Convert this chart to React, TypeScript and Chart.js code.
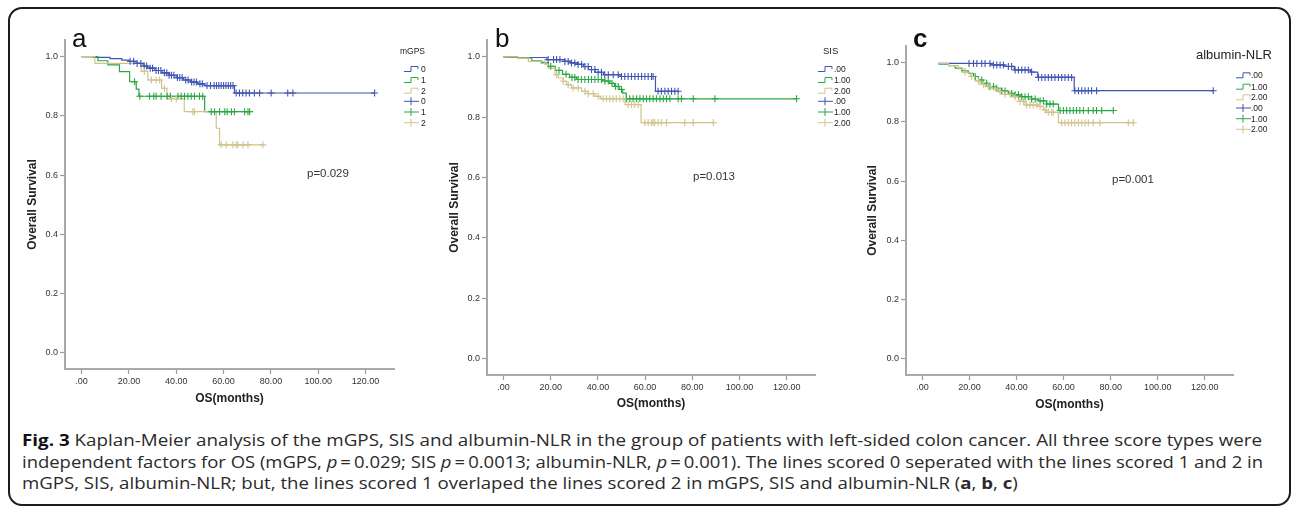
import React, { useEffect, useLayoutEffect, useRef } from 'react';
import { Chart, registerables } from 'chart.js';

Chart.register(...registerables);
Chart.defaults.font.family = "'Liberation Sans', Arial, sans-serif";

// ---------------- data ----------------
const X_TICKS = [0, 20, 40, 60, 80, 100, 120];
const Y_TICKS = [0, 0.2, 0.4, 0.6, 0.8, 1.0];

// Panel a: mGPS (event times / survival after step / censor times)
const A0_T = [0, 5, 12, 17, 20, 23, 26, 28, 31, 34, 37, 40, 43, 46, 49, 52, 64.6, 123.8];
const A0_S = [1.0, 0.997, 0.993, 0.988, 0.984, 0.977, 0.968, 0.961, 0.953, 0.945, 0.937, 0.929, 0.921, 0.914, 0.908, 0.902, 0.877, 0.877];
const A0_C = [20.5, 22, 23.5, 25, 26.5, 27.5, 29, 30, 31.5, 32.5, 33.5, 35, 36, 37, 38, 39, 40.5, 41.5, 42.5, 44, 45, 46.5, 47.5, 48.5, 50, 51, 53, 54.5, 56, 57, 58, 59, 60, 61, 62, 63, 64, 65.3, 66.7, 68.1, 69.5, 70.9, 73, 75.2, 80.1, 87.1, 89.3, 123.8];
const A1_T = [0, 6.9, 11.1, 16.0, 20.3, 23.1, 24.2, 52.0, 71.0];
const A1_S = [1.0, 0.986, 0.972, 0.949, 0.915, 0.89, 0.866, 0.814, 0.814];
const A1_C = [22.4, 24.6, 28.7, 30.5, 31.5, 33.6, 36.2, 37.5, 40.7, 42.1, 43.5, 44.9, 46.3, 47.7, 49.8, 51.2, 54.8, 56.2, 58.3, 60.5, 61.5, 63.3, 64.6, 68.9, 70.3, 71.0];
const A2_T = [0, 5.6, 25.2, 28.0, 33.8, 36.0, 43.4, 56.9, 58.3, 76.6];
const A2_S = [1.0, 0.977, 0.95, 0.921, 0.893, 0.858, 0.814, 0.758, 0.702, 0.702];
const A2_C = [26.5, 29.5, 31.5, 33.0, 35.0, 38.0, 40.0, 47.0, 47.7, 59.0, 61.1, 63.9, 65.3, 66.0, 68.2, 70.3, 76.6];

// Panel b: SIS
const B0_T = [0, 2, 18.4, 26, 28.3, 31.6, 33.9, 36, 38.8, 42.4, 49.4, 64.4, 74.0];
const B0_S = [1.0, 0.998, 0.991, 0.985, 0.98, 0.975, 0.968, 0.958, 0.949, 0.941, 0.935, 0.886, 0.886];
const B0_C = [18.9, 21.2, 22.5, 23.9, 26.0, 27.4, 28.8, 30.2, 31.6, 33.1, 34.5, 35.9, 37.3, 38.7, 40.1, 41.5, 42.9, 44.4, 46.5, 48.6, 50.0, 51.4, 52.8, 54.2, 55.7, 57.1, 58.5, 59.9, 61.3, 62.7, 63.4, 65.5, 66.9, 68.4, 69.8, 71.2, 72.6, 74.0];
const B1_T = [0, 6, 12, 16, 19, 22, 25, 28, 31, 42, 45, 47, 49, 50.5, 52, 124.2];
const B1_S = [1.0, 0.997, 0.987, 0.98, 0.969, 0.955, 0.942, 0.932, 0.925, 0.92, 0.912, 0.902, 0.892, 0.88, 0.861, 0.861];
const B1_C = [20, 23.5, 26.5, 29, 30.2, 31.6, 33, 34.5, 36, 37.3, 38.7, 40.1, 41.5, 43, 44.4, 46, 47.5, 48.6, 50, 52.1, 53.5, 54.9, 56.4, 57.8, 59.2, 60.6, 62.0, 63.4, 64.8, 66.3, 67.7, 69.1, 70.5, 74.0, 75.4, 80.4, 89.6, 124.2];
const B2_T = [0, 6.2, 10.5, 17.5, 18.9, 21.8, 23.2, 25.3, 26.7, 28.8, 33.1, 35.9, 38.7, 41, 51.5, 58.3, 88.9];
const B2_S = [1.0, 0.996, 0.985, 0.974, 0.963, 0.941, 0.93, 0.919, 0.908, 0.897, 0.886, 0.878, 0.869, 0.861, 0.842, 0.782, 0.782];
const B2_C = [22.5, 25.3, 27.4, 29.5, 31.6, 34.5, 35.9, 38.0, 40.1, 42.2, 43.6, 45.0, 46.4, 47.8, 49.3, 50.7, 52.8, 54.2, 55.6, 57.1, 59.9, 61.3, 62.7, 63.4, 64.1, 65.5, 66.9, 69.1, 76.8, 80.4, 88.9];

// Panel c: albumin-NLR
const C0_T = [6.8, 29, 35, 39, 46, 49, 64.5, 124];
const C0_S = [0.997, 0.992, 0.987, 0.975, 0.968, 0.95, 0.905, 0.905];
const C0_C = [19.8, 21.7, 23.1, 25.2, 26.6, 28.7, 30.2, 31.6, 33.0, 34.4, 36.5, 37.9, 39.4, 40.8, 42.2, 43.6, 45.0, 46.4, 49.3, 50.7, 52.1, 53.5, 54.9, 56.3, 57.8, 59.2, 60.6, 62.0, 63.4, 64.8, 66.3, 67.7, 69.1, 70.5, 71.9, 74.0, 123.6];
const C1_T = [6.8, 11.1, 13.9, 16.7, 19.5, 21.7, 23.8, 25.9, 28.0, 30.9, 33.7, 36.5, 39.4, 42.2, 46.4, 49.3, 52.8, 57.8, 81.1];
const C1_S = [0.995, 0.99, 0.981, 0.972, 0.964, 0.953, 0.941, 0.93, 0.919, 0.913, 0.904, 0.896, 0.891, 0.885, 0.877, 0.871, 0.86, 0.838, 0.838];
const C1_C = [22.4, 25.2, 27.3, 28.7, 30.2, 31.6, 33.7, 35.1, 37.9, 39.4, 40.8, 42.2, 43.6, 45.0, 46.4, 47.9, 50.0, 51.4, 52.8, 54.2, 55.6, 58.5, 59.9, 61.3, 62.7, 64.1, 65.5, 66.9, 68.4, 70.5, 72.6, 74.0, 76.2, 81.1];
const C2_T = [6.8, 11.1, 15.3, 18.1, 20.3, 22.4, 24.5, 26.6, 29.5, 32.3, 35.1, 37.9, 40.8, 43.6, 49.3, 51.4, 52.8, 57.8, 90.3];
const C2_S = [0.997, 0.99, 0.979, 0.967, 0.953, 0.938, 0.927, 0.919, 0.913, 0.902, 0.893, 0.885, 0.869, 0.857, 0.852, 0.84, 0.832, 0.797, 0.797];
const C2_C = [18.1, 20.9, 23.8, 25.9, 28.0, 30.9, 33.0, 35.1, 37.2, 39.4, 41.5, 42.9, 44.3, 45.7, 47.1, 48.6, 50.0, 52.1, 53.5, 54.9, 55.6, 59.2, 60.6, 62.0, 63.4, 64.8, 66.3, 67.7, 69.1, 70.5, 72.6, 75.4, 87.5, 89.6];

const LABELS_A = ['0', '1', '2'];
const LABELS_BC = ['.00', '1.00', '2.00'];

// ---------------- styles / layout ----------------
const COLORS = ['#3f55b2', '#2ba843', '#d2c38e'];
const CANVAS_H = 420;
const X_SCALE_H = 45;

type Group = { t: number[]; s: number[]; c: number[] };
type Spec = {
  groups: Group[];
  labels: string[];
  canvasLeft: number; canvasWidth: number;
  L: number; T: number; R: number; B: number;
  yTitleX: number; xTitleY: number;
  letter: string; letterX: number; letterBold: boolean;
  pText: string; pX: number; pY: number;
  legTitle: string; legTitleX: number; legTitleY: number; legTitleSize: number;
  iconX: number; labelX: number; rowY: number[];
};

const SPECS: Spec[] = [
  {
    groups: [{ t: A0_T, s: A0_S, c: A0_C }, { t: A1_T, s: A1_S, c: A1_C }, { t: A2_T, s: A2_S, c: A2_C }],
    labels: LABELS_A,
    canvasLeft: 0, canvasWidth: 440, L: 65, T: 40, R: 394, B: 369,
    yTitleX: 33, xTitleY: 399, letter: 'a', letterX: 72, letterBold: false,
    pText: 'p=0.029', pX: 307, pY: 174,
    legTitle: 'mGPS', legTitleX: 400, legTitleY: 52, legTitleSize: 8.5,
    iconX: 404, labelX: 421, rowY: [69, 80, 90.7, 101.3, 112, 122.7],
  },
  {
    groups: [{ t: B0_T, s: B0_S, c: B0_C }, { t: B1_T, s: B1_S, c: B1_C }, { t: B2_T, s: B2_S, c: B2_C }],
    labels: LABELS_BC,
    canvasLeft: 430, canvasWidth: 430, L: 487, T: 40, R: 815, B: 375,
    yTitleX: 455, xTitleY: 404, letter: 'b', letterX: 495, letterBold: false,
    pText: 'p=0.013', pX: 693, pY: 177,
    legTitle: 'SIS', legTitleX: 823, legTitleY: 51, legTitleSize: 9.5,
    iconX: 818, labelX: 834, rowY: [69, 80, 90.7, 101.3, 112, 122.7],
  },
  {
    groups: [{ t: C0_T, s: C0_S, c: C0_C }, { t: C1_T, s: C1_S, c: C1_C }, { t: C2_T, s: C2_S, c: C2_C }],
    labels: LABELS_BC,
    canvasLeft: 860, canvasWidth: 430, L: 906, T: 46, R: 1233, B: 375,
    yTitleX: 873, xTitleY: 405, letter: 'c', letterX: 913, letterBold: true,
    pText: 'p=0.001', pX: 1112, pY: 180,
    legTitle: 'albumin-NLR', legTitleX: 1196, legTitleY: 55, legTitleSize: 13,
    iconX: 1236, labelX: 1251, rowY: [75.3, 86.7, 97.3, 108, 118.7, 129.3],
  },
];

function survAt(t: number[], s: number[], x: number): number {
  let v = s[0];
  for (let i = 0; i < t.length; i++) if (t[i] <= x + 1e-9) v = s[i];
  return v;
}

const FONT = "'Liberation Sans', Arial, sans-serif";

function overlayPlugin(spec: Spec) {
  return {
    id: 'overlay_' + spec.letter,
    afterDraw(chart: any) {
      const ctx: CanvasRenderingContext2D = chart.ctx;
      const cl = spec.canvasLeft;
      ctx.save();
      // panel letter
      ctx.fillStyle = '#111';
      ctx.textAlign = 'left';
      ctx.textBaseline = 'alphabetic';
      ctx.font = `${spec.letterBold ? 'bold ' : ''}26px ${FONT}`;
      ctx.fillText(spec.letter, spec.letterX - cl, 47);
      // p value
      ctx.fillStyle = '#333';
      ctx.textBaseline = 'middle';
      ctx.font = `11.5px ${FONT}`;
      ctx.fillText(spec.pText, spec.pX - cl, spec.pY);
      // legend title
      ctx.fillStyle = '#222';
      ctx.font = `${spec.legTitleSize}px ${FONT}`;
      ctx.fillText(spec.legTitle, spec.legTitleX - cl, spec.legTitleY);
      // legend rows
      ctx.font = `8.5px ${FONT}`;
      for (let i = 0; i < 6; i++) {
        const col = COLORS[i % 3];
        const y = spec.rowY[i];
        const x0 = spec.iconX - cl;
        ctx.strokeStyle = col;
        ctx.lineWidth = 1;
        ctx.beginPath();
        if (i < 3) {
          ctx.moveTo(x0, y + 2.5);
          ctx.lineTo(x0 + 7, y + 2.5);
          ctx.lineTo(x0 + 7, y - 2.5);
          ctx.lineTo(x0 + 14, y - 2.5);
          ctx.lineTo(x0 + 14, y);
        } else {
          ctx.moveTo(x0, y);
          ctx.lineTo(x0 + 15, y);
          ctx.moveTo(x0 + 7, y - 4);
          ctx.lineTo(x0 + 7, y + 4);
        }
        ctx.stroke();
        ctx.fillStyle = '#222';
        ctx.fillText(spec.labels[i % 3], spec.labelX - cl, y + 0.5);
      }
      ctx.restore();
    },
  };
}

function Panel({ spec }: { spec: Spec }) {
  const ref = useRef<HTMLCanvasElement | null>(null);
  useEffect(() => {
    if (!ref.current) return;
    const lines = spec.groups.map((g, i) => ({
      type: 'line' as const,
      data: g.t.map((t, k) => ({ x: t, y: g.s[k] })),
      borderColor: COLORS[i],
      borderWidth: 1.2,
      pointRadius: 0,
      stepped: 'before' as const,
      fill: false,
      order: 10 + (2 - i),
    }));
    const censors = spec.groups.map((g, i) => ({
      type: 'scatter' as const,
      data: g.c.map((t) => ({ x: t, y: survAt(g.t, g.s, t) })),
      borderColor: COLORS[i],
      backgroundColor: COLORS[i],
      pointStyle: 'cross' as const,
      pointRadius: 3.5,
      pointBorderWidth: 1.1,
      borderWidth: 1.1,
      showLine: false,
      order: 2 - i,
    }));
    const cl = spec.canvasLeft;
    const chart = new Chart(ref.current, {
      type: 'line',
      data: { datasets: [...lines, ...censors] as any },
      options: {
        animation: false,
        responsive: false,
        devicePixelRatio: 1,
        events: [],
        layout: {
          padding: {
            left: 0,
            top: spec.T,
            right: spec.canvasWidth - (spec.R - cl),
            bottom: CANVAS_H - (spec.B + X_SCALE_H),
          },
        },
        plugins: { legend: { display: false }, tooltip: { enabled: false }, title: { display: false } },
        scales: {
          x: {
            type: 'linear',
            min: -7,
            max: 132,
            afterFit: (s: any) => { s.height = X_SCALE_H; },
            afterBuildTicks: (s: any) => { s.ticks = X_TICKS.map((v) => ({ value: v })); },
            ticks: {
              callback: (v: any) => (Number(v) === 0 ? '.00' : Number(v).toFixed(2)),
              font: { size: 9 },
              color: '#333',
              padding: 2,
              maxRotation: 0,
              autoSkip: false,
            },
            grid: { drawOnChartArea: false, drawTicks: true, tickLength: 5, color: '#9a9a9a', tickWidth: 1.2 },
            border: { display: true, color: '#a9a9a9', width: 2 },
            title: {
              display: true,
              text: 'OS(months)',
              font: { size: 12, weight: 'bold' },
              color: '#222',
              padding: { top: 0, bottom: (spec.B + X_SCALE_H) - spec.xTitleY - 7.2 },
            },
          },
          y: {
            type: 'linear',
            min: -0.055,
            max: 1.056,
            afterFit: (s: any) => { s.width = spec.L - cl; },
            afterBuildTicks: (s: any) => { s.ticks = Y_TICKS.map((v) => ({ value: v })); },
            ticks: {
              callback: (v: any) => Number(v).toFixed(1),
              font: { size: 9 },
              color: '#333',
              padding: 2,
              autoSkip: false,
            },
            grid: { drawOnChartArea: false, drawTicks: true, tickLength: 5, color: '#9a9a9a', tickWidth: 1.2 },
            border: { display: true, color: '#a9a9a9', width: 2 },
            title: {
              display: true,
              text: 'Overall Survival',
              font: { size: 12, weight: 'bold' },
              color: '#222',
              padding: { top: spec.yTitleX - cl - 7.2, bottom: 0 },
            },
          },
        },
      } as any,
      plugins: [overlayPlugin(spec)],
    });
    return () => chart.destroy();
  }, [spec]);
  return (
    <canvas
      ref={ref}
      width={spec.canvasWidth}
      height={CANVAS_H}
      style={{ position: 'absolute', left: spec.canvasLeft, top: 0, width: spec.canvasWidth, height: CANVAS_H }}
    />
  );
}

// caption: lines 1 and 2 are justified to the full text width; line 3 uses the same scale as line 1
const CAPTION_FULL_WIDTH = 1240;
const CAPTION_TOPS = [430, 451.5, 473];

function Caption() {
  const r0 = useRef<HTMLDivElement | null>(null);
  const r1 = useRef<HTMLDivElement | null>(null);
  const r2 = useRef<HTMLDivElement | null>(null);
  useLayoutEffect(() => {
    const els = [r0.current, r1.current, r2.current];
    if (els.some((e) => !e)) return;
    els.forEach((e) => { (e as HTMLDivElement).style.transform = 'none'; });
    const w = els.map((e) => (e as HTMLDivElement).getBoundingClientRect().width);
    const k0 = CAPTION_FULL_WIDTH / w[0];
    const k1 = (CAPTION_FULL_WIDTH + 1) / w[1];
    (els[0] as HTMLDivElement).style.transform = `scaleX(${k0})`;
    (els[1] as HTMLDivElement).style.transform = `scaleX(${k1})`;
    (els[2] as HTMLDivElement).style.transform = `scaleX(${(k0 + k1) / 2})`;
  });
  const base: React.CSSProperties = {
    position: 'absolute',
    left: 22,
    whiteSpace: 'nowrap',
    display: 'inline-block',
    transformOrigin: '0 50%',
    fontFamily: "'Open Sans', 'Noto Sans', sans-serif",
    fontSize: 16,
    lineHeight: '20px',
    color: '#2a2a2a',
  };
  const eq = '\u2009=\u2009';
  return (
    <>
      <div ref={r0} style={{ ...base, top: CAPTION_TOPS[0] }}>
        <b style={{ color: '#111' }}>Fig. 3</b> Kaplan-Meier analysis of the mGPS, SIS and albumin-NLR in the group of patients with left-sided colon cancer. All three score types were
      </div>
      <div ref={r1} style={{ ...base, top: CAPTION_TOPS[1] }}>
        independent factors for OS (mGPS, <i>p</i>{eq}0.029; SIS <i>p</i>{eq}0.0013; albumin-NLR, <i>p</i>{eq}0.001). The lines scored 0 seperated with the lines scored 1 and 2 in
      </div>
      <div ref={r2} style={{ ...base, top: CAPTION_TOPS[2] }}>
        mGPS, SIS, albumin-NLR; but, the lines scored 1 overlaped the lines scored 2 in mGPS, SIS and albumin-NLR (<b>a</b>, <b>b</b>, <b>c</b>)
      </div>
    </>
  );
}

export default function App() {
  return (
    <div style={{ position: 'fixed', left: 0, top: 0, width: 1295, height: 507, background: '#fff', overflow: 'hidden' }}>
      <div
        style={{
          position: 'absolute', left: 8, top: 7, width: 1283, height: 499,
          boxSizing: 'border-box', border: '2px solid #1c1c1c', borderRadius: 14,
        }}
      />
      {SPECS.map((s) => (
        <Panel key={s.letter} spec={s} />
      ))}
      <Caption />
    </div>
  );
}
